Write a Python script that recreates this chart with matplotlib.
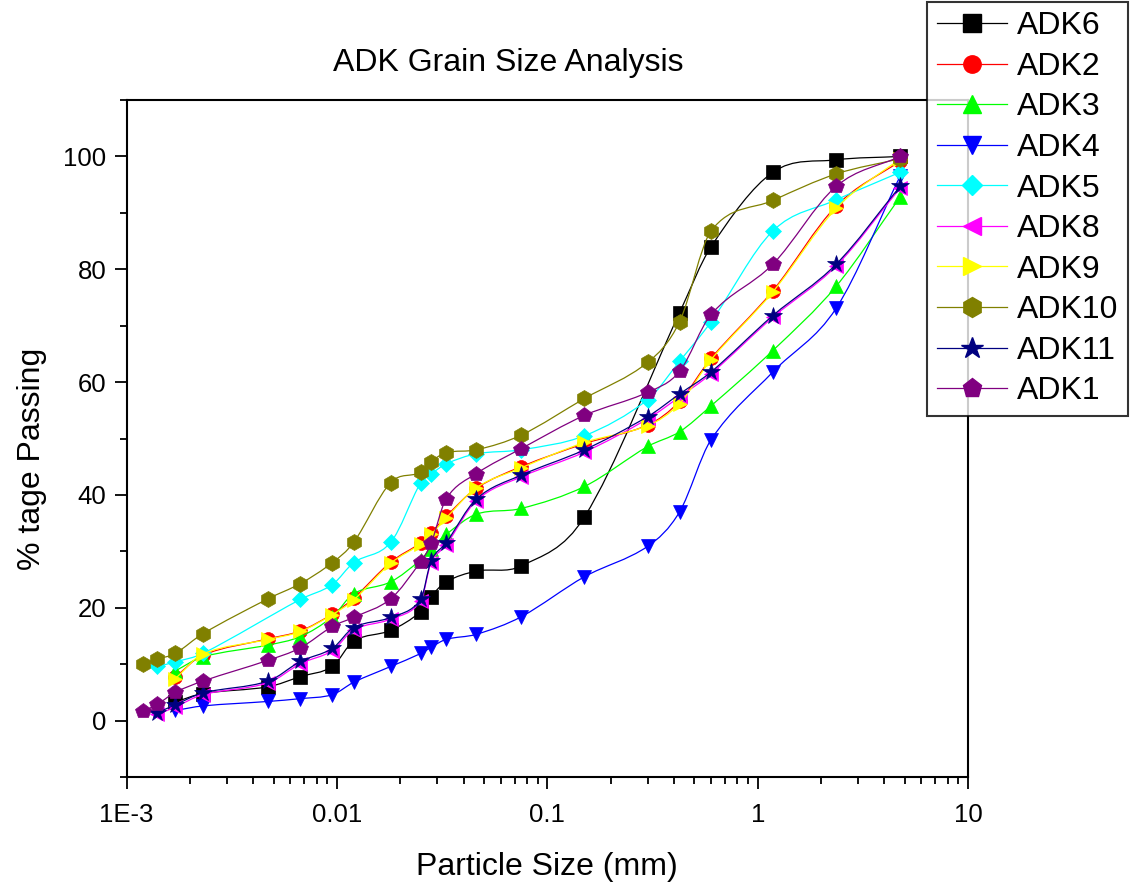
import numpy as np
from matplotlib import pyplot as plt
from matplotlib.path import Path
from matplotlib.patches import PathPatch
from matplotlib.lines import Line2D
from matplotlib.ticker import FixedLocator, FixedFormatter, LogLocator, MultipleLocator

plt.rcParams['font.family'] = ['Liberation Sans', 'DejaVu Sans']

# particle sizes (mm)
adk6_x = [0.0017, 0.0023, 0.0047, 0.0067, 0.0095, 0.012, 0.018, 0.025, 0.028, 0.033, 0.046, 0.075, 0.15, 0.425, 0.6, 1.18, 2.36, 4.75]
adk6_y = [3.3, 4.8, 6.0, 7.8, 9.6, 14.1, 16.0, 19.3, 22.0, 24.6, 26.5, 27.4, 36.1, 72.3, 84.0, 97.2, 99.4, 100.0]

adk2_x = [0.0017, 0.0023, 0.0047, 0.0067, 0.0095, 0.012, 0.018, 0.025, 0.028, 0.033, 0.046, 0.075, 0.15, 0.3, 0.425, 0.6, 1.18, 2.36, 4.75]
adk2_y = [7.7, 11.6, 14.5, 15.9, 18.9, 21.7, 28.1, 31.5, 33.3, 36.2, 41.2, 45.0, 49.1, 52.4, 56.6, 64.2, 76.2, 91.2, 99.2]

adk3_x = [0.0017, 0.0023, 0.0047, 0.0067, 0.0095, 0.012, 0.018, 0.025, 0.028, 0.033, 0.046, 0.075, 0.15, 0.3, 0.425, 0.6, 1.18, 2.36, 4.75]
adk3_y = [8.8, 11.3, 13.4, 14.9, 18.4, 22.5, 24.6, 28.5, 30.5, 33.0, 36.6, 37.6, 41.5, 48.6, 51.2, 55.8, 65.6, 77.0, 92.8]

adk4_x = [0.0017, 0.0023, 0.0047, 0.0067, 0.0095, 0.012, 0.018, 0.025, 0.028, 0.033, 0.046, 0.075, 0.15, 0.3, 0.425, 0.6, 1.18, 2.36, 4.75]
adk4_y = [1.8, 2.6, 3.4, 3.9, 4.6, 6.8, 9.6, 11.9, 13.0, 14.4, 15.3, 18.4, 25.5, 30.9, 37.0, 49.8, 61.8, 73.1, 96.5]

adk5_x = [0.0014, 0.0017, 0.0023, 0.0067, 0.0095, 0.012, 0.018, 0.025, 0.028, 0.033, 0.046, 0.075, 0.15, 0.3, 0.425, 0.6, 1.18, 2.36, 4.75]
adk5_y = [9.6, 10.4, 11.9, 21.5, 24.1, 28.0, 31.6, 42.2, 43.7, 45.5, 47.3, 48.0, 50.5, 56.9, 63.7, 70.7, 86.8, 92.3, 97.2]

adk8_x = [0.0014, 0.0017, 0.0023, 0.0047, 0.0067, 0.0095, 0.012, 0.018, 0.025, 0.028, 0.033, 0.046, 0.075, 0.15, 0.3, 0.425, 0.6, 1.18, 2.36, 4.75]
adk8_y = [1.1, 2.4, 4.6, 6.7, 10.1, 12.4, 16.1, 18.0, 21.2, 28.0, 31.1, 39.0, 43.2, 47.6, 53.5, 57.4, 61.5, 71.5, 80.6, 94.4]

adk9_x = [0.0017, 0.0023, 0.0047, 0.0067, 0.0095, 0.012, 0.018, 0.025, 0.028, 0.033, 0.046, 0.075, 0.15, 0.3, 0.425, 0.6, 1.18, 2.36, 4.75]
adk9_y = [7.4, 11.8, 14.4, 15.8, 18.8, 21.4, 27.9, 31.3, 33.0, 35.9, 41.3, 44.8, 49.3, 52.3, 56.2, 64.0, 76.0, 90.8, 99.6]

adk10_x = [0.0012, 0.0014, 0.0017, 0.0023, 0.0047, 0.0067, 0.0095, 0.012, 0.018, 0.025, 0.028, 0.033, 0.046, 0.075, 0.15, 0.3, 0.425, 0.6, 1.18, 2.36, 4.75]
adk10_y = [10.0, 10.9, 11.9, 15.4, 21.6, 24.3, 28.0, 31.6, 42.2, 44.0, 45.9, 47.5, 48.0, 50.6, 57.1, 63.5, 70.7, 86.8, 92.2, 96.9, 99.6]

adk11_x = [0.0014, 0.0017, 0.0023, 0.0047, 0.0067, 0.0095, 0.012, 0.018, 0.025, 0.028, 0.033, 0.046, 0.075, 0.15, 0.3, 0.425, 0.6, 1.18, 2.36, 4.75]
adk11_y = [1.4, 2.8, 4.9, 7.0, 10.5, 12.8, 16.5, 18.3, 21.5, 28.3, 31.5, 39.3, 43.5, 48.0, 53.9, 57.9, 61.8, 71.8, 80.9, 94.7]

adk1_x = [0.0012, 0.0014, 0.0017, 0.0023, 0.0047, 0.0067, 0.0095, 0.012, 0.018, 0.025, 0.028, 0.033, 0.046, 0.075, 0.15, 0.3, 0.425, 0.6, 1.18, 2.36, 4.75]
adk1_y = [1.7, 2.9, 5.0, 7.0, 10.7, 12.9, 16.7, 18.3, 21.6, 28.2, 31.4, 39.3, 43.8, 48.2, 54.1, 58.2, 61.9, 72.0, 80.9, 94.7, 100.0]

labels = ['ADK6', 'ADK2', 'ADK3', 'ADK4', 'ADK5', 'ADK8', 'ADK9', 'ADK10', 'ADK11', 'ADK1']
xticks = [0.001, 0.01, 0.1, 1, 10]
xtick_labels = ['1E-3', '0.01', '0.1', '1', '10']


def spline_path(xs, ys):
    # smooth connecting line (cubic hermite in log-x space), like origin's spline
    u = np.log10(xs)
    y = np.asarray(ys, dtype=float)
    m = np.empty(len(u))
    m[0] = (y[1] - y[0]) / (u[1] - u[0])
    m[-1] = (y[-1] - y[-2]) / (u[-1] - u[-2])
    m[1:-1] = (y[2:] - y[:-2]) / (u[2:] - u[:-2])
    verts = [(u[0], y[0])]
    codes = [Path.MOVETO]
    for i in range(len(u) - 1):
        h = u[i + 1] - u[i]
        verts += [(u[i] + h / 3, y[i] + m[i] * h / 3),
                  (u[i + 1] - h / 3, y[i + 1] - m[i + 1] * h / 3),
                  (u[i + 1], y[i + 1])]
        codes += [Path.CURVE4] * 3
    verts = np.array(verts)
    verts[:, 0] = 10 ** verts[:, 0]
    return Path(verts, codes)


def myMain():
    series = [(adk6_x, adk6_y), (adk2_x, adk2_y), (adk3_x, adk3_y), (adk4_x, adk4_y),
              (adk5_x, adk5_y), (adk8_x, adk8_y), (adk9_x, adk9_y), (adk10_x, adk10_y),
              (adk11_x, adk11_y), (adk1_x, adk1_y)]
    colors = ['black', 'red', '#00ff00', 'blue', 'cyan', 'magenta', 'yellow', '#808000', '#000080', '#800080']
    markers = ['s', 'o', '^', 'v', 'D', '<', '>', 'h', '*', 'p']
    sizes = [10, 10, 10.5, 10.5, 8, 10.5, 10.5, 11.5, 13, 11.5]

    fig = plt.figure(figsize=(11.3, 8.83), dpi=100)
    ax = fig.add_axes([0.1121, 0.12, 0.7446, 0.7667])
    ax.set_xscale('log')

    handles = []
    for i, (xs, ys) in enumerate(series):
        c = colors[i]
        ax.add_patch(PathPatch(spline_path(xs, ys), fill=False, edgecolor=c, lw=0.9, zorder=2 + i * 0.1))
        ax.plot(xs, ys, ls='none', marker=markers[i], ms=sizes[i], color=c, mec=c, mew=0.5, zorder=2.05 + i * 0.1)
        handles.append(Line2D([], [], color=c, lw=0.9, marker=markers[i], ms=sizes[i] * 1.25, mec=c))

    ax.set_xlim(0.001, 10)
    ax.set_ylim(-10, 110)
    ax.xaxis.set_major_locator(FixedLocator(xticks))
    ax.xaxis.set_major_formatter(FixedFormatter(xtick_labels))
    ax.xaxis.set_minor_locator(LogLocator(base=10, subs=np.arange(2, 10)))
    ax.yaxis.set_major_locator(MultipleLocator(20))
    ax.yaxis.set_minor_locator(MultipleLocator(10))
    ax.tick_params(which='both', direction='out', width=1.3, labelsize=18.5, top=False, right=False)
    ax.tick_params(which='major', length=8.5, pad=6)
    ax.tick_params(axis='x', which='major', pad=10)
    ax.tick_params(which='minor', length=5)
    for s in ax.spines.values():
        s.set_linewidth(1.5)

    ax.set_xlabel('Particle Size (mm)', fontsize=23, labelpad=18)
    ax.set_ylabel('% tage Passing', fontsize=23)
    ax.yaxis.set_label_coords(-0.095, 0.47)
    fig.text(0.45, 0.929, 'ADK Grain Size Analysis', fontsize=23, ha='center', va='center')

    leg = fig.legend(handles, labels, loc='upper right', bbox_to_anchor=(0.998, 0.998),
                     fontsize=23, frameon=True, fancybox=False, edgecolor='black',
                     handlelength=2.2, handletextpad=0.3, labelspacing=0.33, borderpad=0.3,
                     borderaxespad=0)
    leg.get_frame().set_linewidth(1.5)
    leg.set_zorder(10)

    fig.savefig('out.png', dpi=100, facecolor='white')


if __name__ == '__main__':
    myMain()
